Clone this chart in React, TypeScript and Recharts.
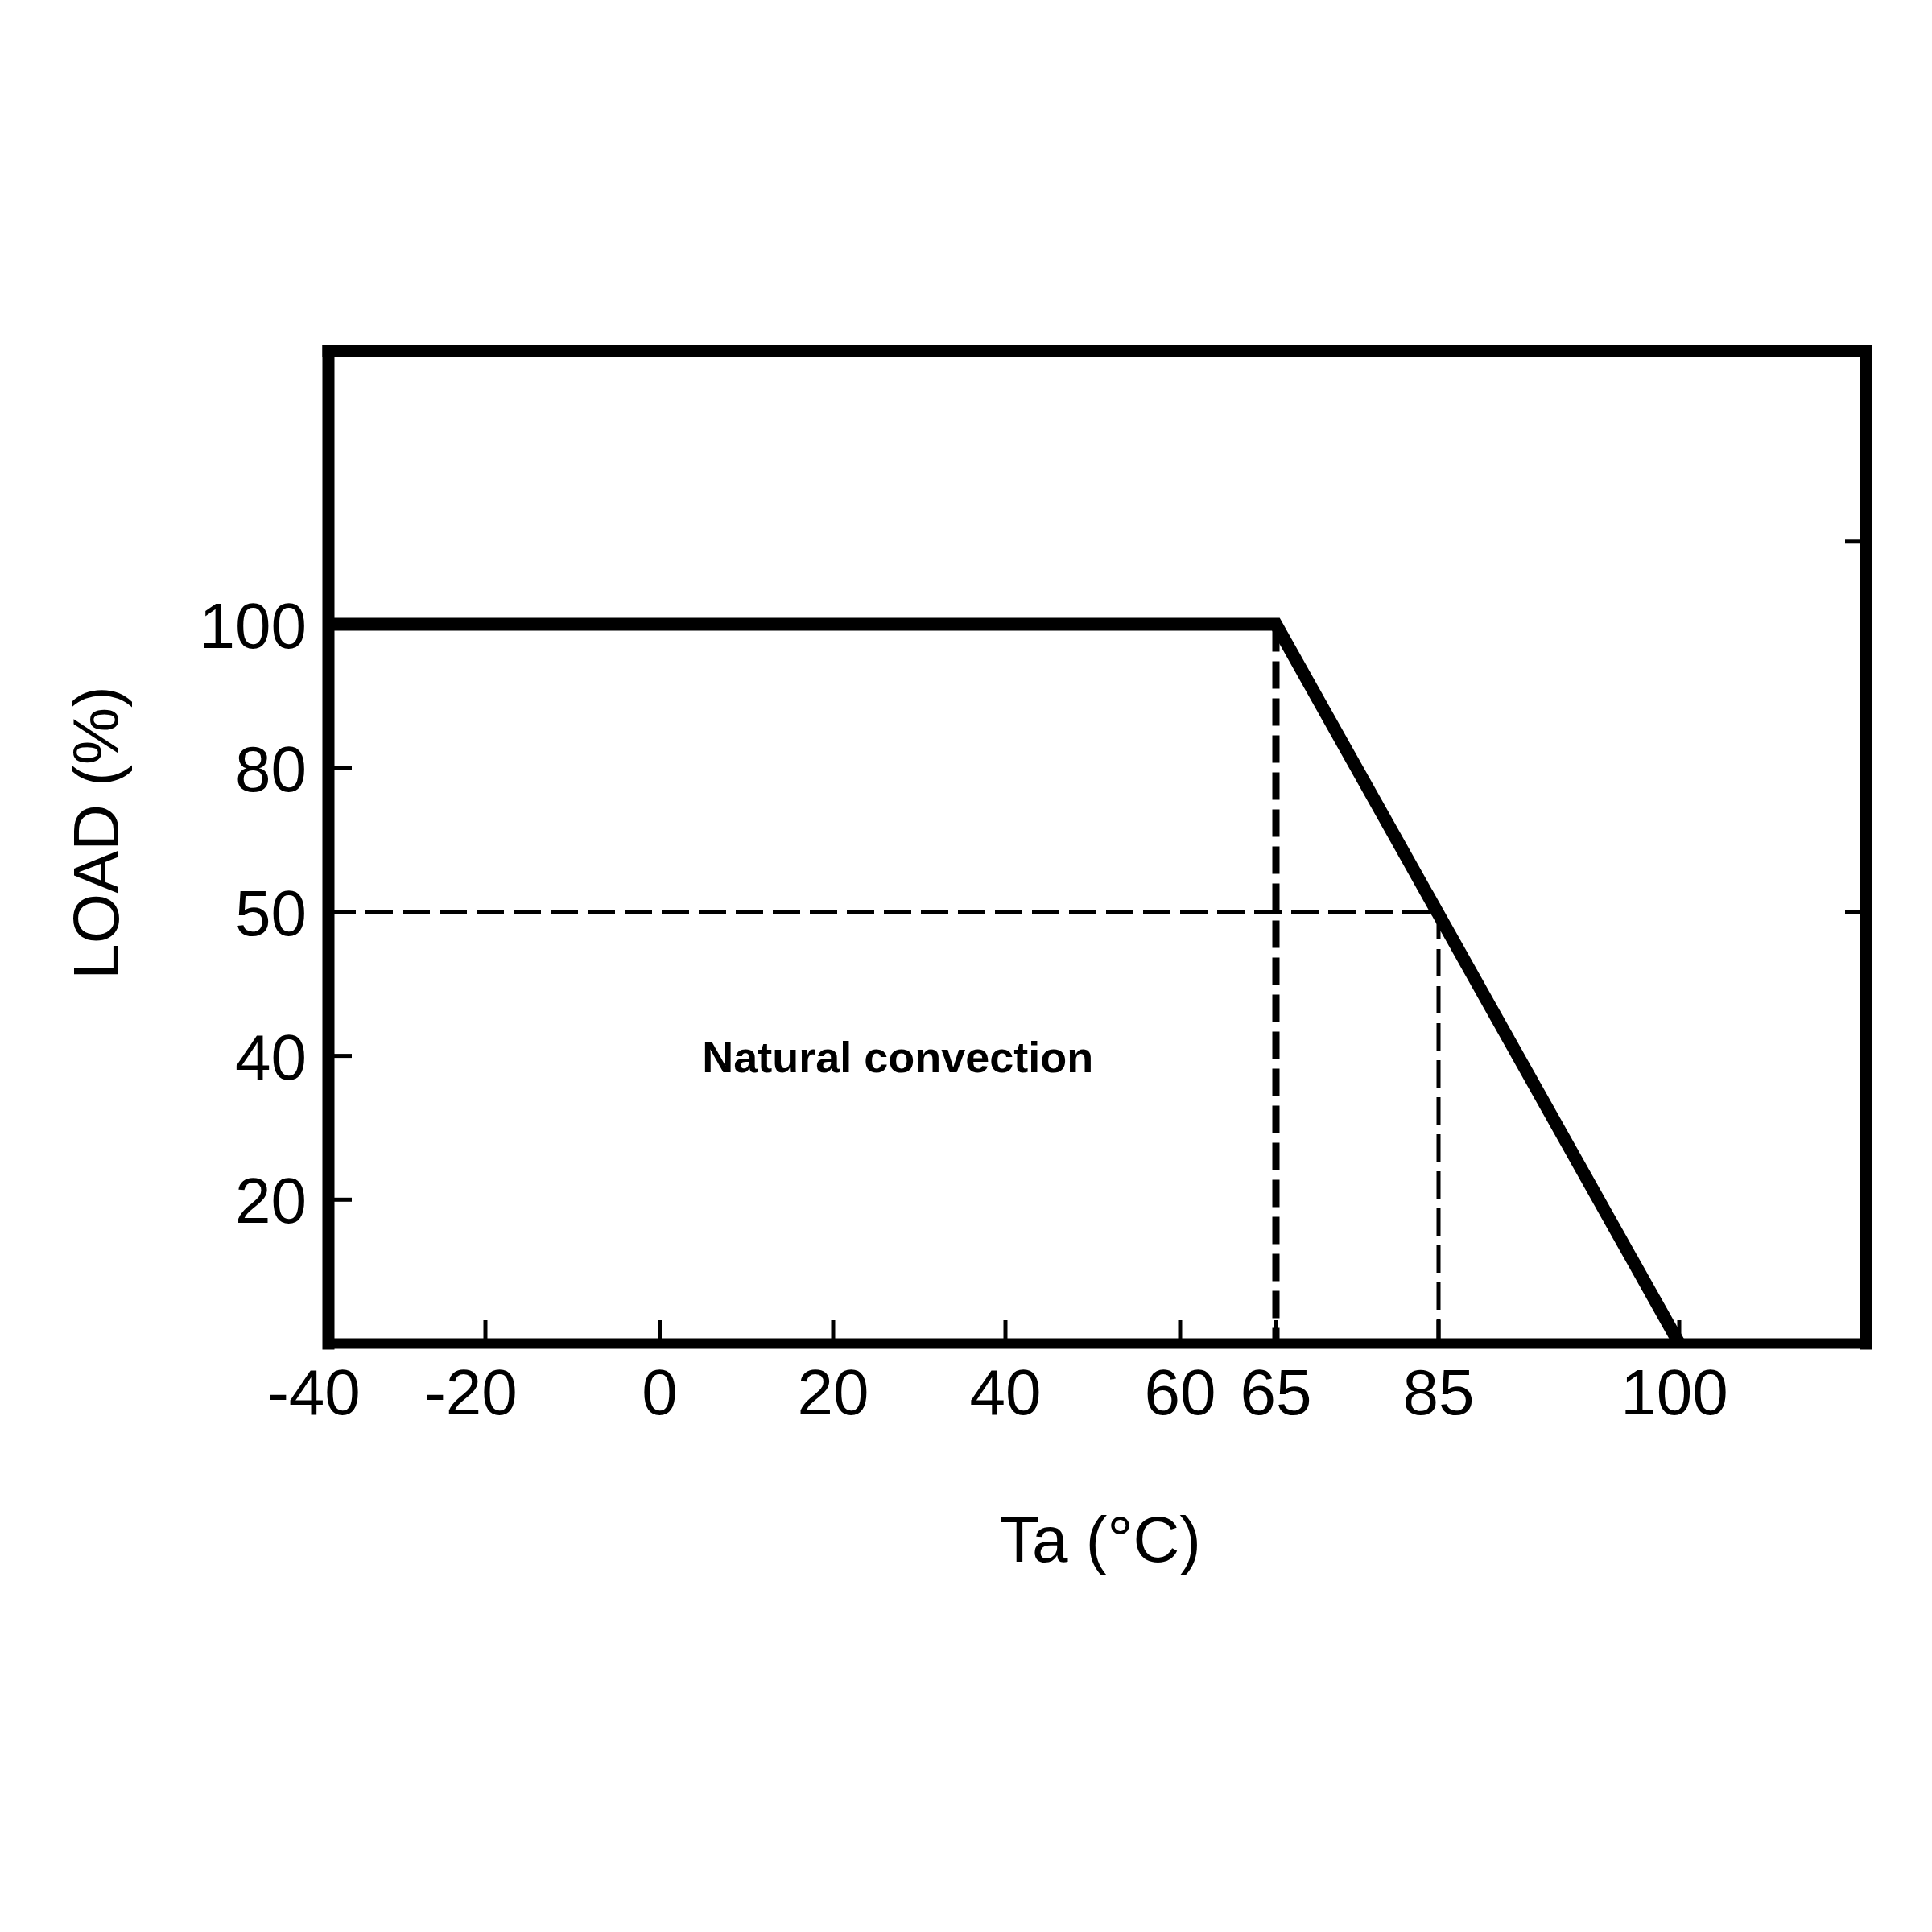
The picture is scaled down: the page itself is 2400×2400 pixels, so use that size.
import React from 'react';
import { LineChart, Line, XAxis, YAxis, ReferenceLine, ReferenceDot } from 'recharts';

// readings
const tempTicks = [-40, -20, 0, 20, 40, 60, 65, 85, 100];
const loadTicks = [20, 40, 50, 80, 100];
const rightTicks = [50, 111.5];

const curveTemp = [-40, 65, 100];
const curveLoad = [100, 100, 0];

const fullLoadLimit = 65;
const halfLoadTemp = 85;
const halfLoad = 50;
const noteTemp = 27.5;
const noteLoad = 40;

// the drawing is not to scale: where each reading sits along its axis
const X_KNOT_TEMP = [-40, -20, 0, 20, 40, 60, 65, 85, 100, 111.6];
const X_KNOT_POS = [0, 195, 411.5, 627, 841, 1058, 1177, 1379, 1678, 1910];
const Y_KNOT_LOAD = [0, 20, 40, 50, 80, 100, 138];
const Y_KNOT_POS = [0, 1, 2, 3, 4, 5, 6.9];

const FONT = '"Liberation Sans", Arial, sans-serif';
const INK = '#000';
const TICK_LEN = 26;

const interp = (v: number, from: number[], to: number[]) => {
  for (let i = 0; i < from.length - 1; i++) {
    if (v <= from[i + 1] || i === from.length - 2) {
      const t = (v - from[i]) / (from[i + 1] - from[i]);
      return to[i] + t * (to[i + 1] - to[i]);
    }
  }
  return to[0];
};
const wx = (t: number) => interp(t, X_KNOT_TEMP, X_KNOT_POS);
const wy = (l: number) => interp(l, Y_KNOT_LOAD, Y_KNOT_POS);

const xMax = X_KNOT_POS[X_KNOT_POS.length - 1];
const xDomain = [0, xMax];
const yDomain = [0, Y_KNOT_POS[Y_KNOT_POS.length - 1]];

const curve = curveTemp.map((t, i) => ({ x: wx(t), y: wy(curveLoad[i]) }));

const nearest = (v: number, list: number[], warp: (n: number) => number) =>
  list.reduce((best, cur) => (Math.abs(warp(cur) - v) < Math.abs(warp(best) - v) ? cur : best), list[0]);

const BottomTick = (props: any) => {
  const { x, y, payload } = props;
  const label = nearest(payload.value, tempTicks, wx);
  const dx = label < 0 ? -18 : label >= 100 ? -6 : 0;
  return (
    <g>
      <line x1={x} x2={x} y1={y} y2={y - 29} stroke={INK} strokeWidth={5} />
      <text x={x + dx} y={y + 88} textAnchor="middle" fontSize={80} fontFamily={FONT} fill={INK}>
        {label}
      </text>
    </g>
  );
};

const LeftTick = (props: any) => {
  const { x, y, payload } = props;
  const label = nearest(payload.value, loadTicks, wy);
  return (
    <g>
      <line x1={x} x2={x + 29} y1={y} y2={y} stroke={INK} strokeWidth={5} />
      <text x={x - 27} y={y + 29} textAnchor="end" fontSize={80} fontFamily={FONT} fill={INK}>
        {label}
      </text>
    </g>
  );
};

const frame = (w: number) => ({ stroke: INK, strokeWidth: w, strokeLinecap: 'square' as const });

export default function App() {
  return (
    <div style={{ position: 'absolute', left: 0, top: 0, background: '#fff' }}>
      <LineChart
        width={2400}
        height={2400}
        data={curve}
        margin={{ top: 416, right: 52, bottom: 611, left: 108 }}
      >
        <XAxis
          xAxisId="bottom"
          dataKey="x"
          type="number"
          domain={xDomain}
          ticks={tempTicks.map(wx)}
          interval={0}
          tick={BottomTick}
          tickLine={false}
          tickSize={0}
          tickMargin={0}
          axisLine={frame(13)}
          height={120}
          label={{
            content: ({ viewBox }: any) => (
              <text
                x={viewBox.x + viewBox.width / 2 + 4}
                y={viewBox.y + 271}
                textAnchor="middle"
                fontSize={80}
                fontFamily={FONT}
                fill={INK}
              >
                Ta (°C)
              </text>
            ),
          }}
        />
        <XAxis
          xAxisId="top"
          orientation="top"
          dataKey="x"
          type="number"
          domain={xDomain}
          tick={false}
          tickLine={false}
          axisLine={frame(15)}
          height={20}
        />
        <YAxis
          yAxisId="left"
          type="number"
          domain={yDomain}
          ticks={loadTicks.map(wy)}
          interval={0}
          tick={LeftTick}
          tickLine={false}
          tickSize={0}
          tickMargin={0}
          axisLine={frame(15)}
          width={300}
          label={{
            content: ({ viewBox }: any) => {
              const lx = viewBox.x + 39;
              const ly = viewBox.y + viewBox.height / 2 - 18;
              return (
                <text
                  x={lx}
                  y={ly}
                  transform={`rotate(-90, ${lx}, ${ly})`}
                  textAnchor="middle"
                  fontSize={80}
                  fontFamily={FONT}
                  fill={INK}
                >
                  LOAD (%)
                </text>
              );
            },
          }}
        />
        <YAxis
          yAxisId="right"
          orientation="right"
          type="number"
          domain={yDomain}
          tick={false}
          tickLine={false}
          axisLine={frame(15)}
          width={30}
        />

        {/* short inward ticks on the right-hand frame */}
        {rightTicks.map((v) => (
          <ReferenceLine
            key={`rt-${v}`}
            xAxisId="bottom"
            yAxisId="left"
            segment={[
              { x: xMax - TICK_LEN, y: wy(v) },
              { x: xMax, y: wy(v) },
            ]}
            stroke={INK}
            strokeWidth={5}
          />
        ))}

        <ReferenceLine
          xAxisId="bottom"
          yAxisId="left"
          segment={[
            { x: wx(fullLoadLimit), y: wy(100) },
            { x: wx(fullLoadLimit), y: wy(0) },
          ]}
          stroke={INK}
          strokeWidth={9}
          strokeDasharray="34 12"
        />
        <ReferenceLine
          xAxisId="bottom"
          yAxisId="left"
          segment={[
            { x: wx(-40), y: wy(halfLoad) },
            { x: wx(halfLoadTemp), y: wy(halfLoad) },
          ]}
          stroke={INK}
          strokeWidth={6}
          strokeDasharray="34 12"
        />
        <ReferenceLine
          xAxisId="bottom"
          yAxisId="left"
          segment={[
            { x: wx(halfLoadTemp), y: wy(halfLoad) },
            { x: wx(halfLoadTemp), y: wy(0) },
          ]}
          stroke={INK}
          strokeWidth={5}
          strokeDasharray="34 12"
        />

        <Line
          xAxisId="bottom"
          yAxisId="left"
          dataKey="y"
          type="linear"
          stroke={INK}
          strokeWidth={16}
          strokeLinejoin="miter"
          dot={false}
          activeDot={false}
          isAnimationActive={false}
        />

        <ReferenceDot
          xAxisId="bottom"
          yAxisId="left"
          x={wx(noteTemp)}
          y={wy(noteLoad)}
          r={0}
          fill="none"
          stroke="none"
          label={{
            content: ({ viewBox }: any) => (
              <text
                x={viewBox.x + viewBox.width / 2}
                y={viewBox.y + viewBox.height / 2 + 20}
                textAnchor="middle"
                fontSize={54}
                fontWeight="bold"
                fontFamily={FONT}
                fill={INK}
              >
                Natural convection
              </text>
            ),
          }}
        />
      </LineChart>
    </div>
  );
}
